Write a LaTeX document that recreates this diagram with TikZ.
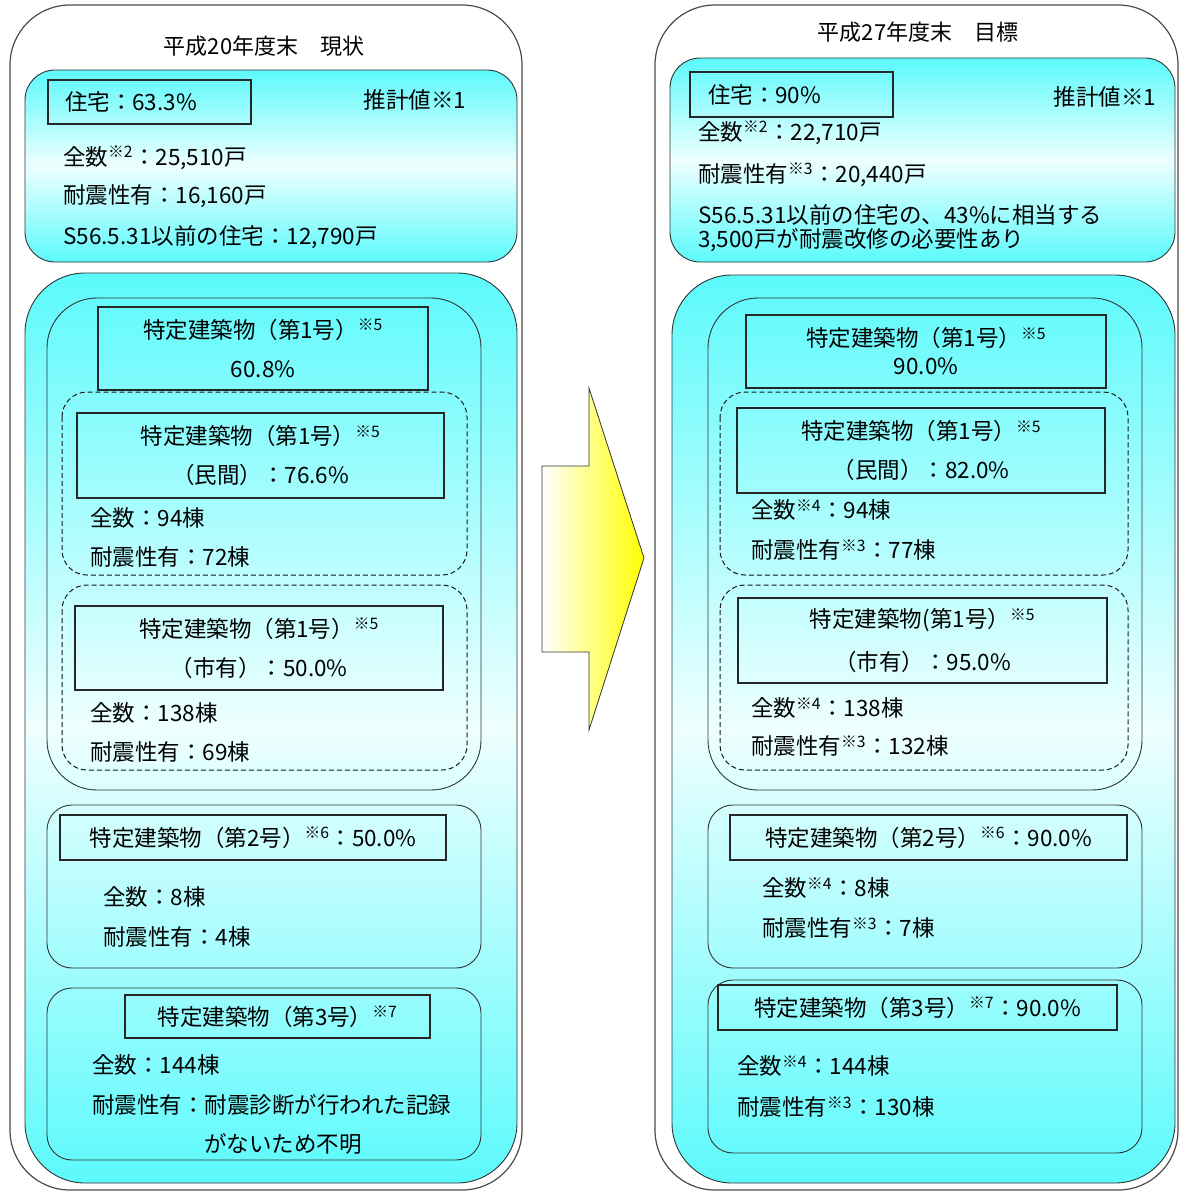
\documentclass[tikz,border=0pt]{standalone}
\usepackage{fontspec}
\setmainfont{Noto Sans CJK JP}
\usetikzlibrary{positioning}
\definecolor{aqua}{RGB}{92,250,252}
\definecolor{aqualight}{RGB}{238,255,255}
\newcommand{\nt}[1]{\textsuperscript{※#1}}
\newcommand{\bodyfont}{\fontsize{22.5pt}{39pt}\selectfont}
\newcommand{\titlefont}{\fontsize{22pt}{26pt}\selectfont}
\begin{document}
\begin{tikzpicture}[x=1pt, y=-1pt, >=latex,
  panel/.style={draw=black!70, line width=1.2pt, fill=white, rounded corners=60pt},
  bluebox/.style={draw=black!80, line width=0.9pt, top color=aqua, bottom color=aqua, middle color=aqualight},
  grp/.style={draw=black!80, line width=0.9pt, rounded corners=#1},
  dgrp/.style={draw=black!90, line width=1pt, dash pattern=on 5pt off 3pt, rounded corners=25pt},
  tbox/.style={draw=black!85, line width=1.2pt, rectangle, inner sep=0pt, align=center, font=\bodyfont},
  txt/.style={anchor=west, inner sep=0pt, font=\bodyfont}]
\useasboundingbox (0,0) rectangle (1183,1194);

% left panel
\draw[panel] (10,5) rectangle (522,1190);
\node (lt)[font=\titlefont] at (264,46) {平成20年度末　現状};
\shadedraw[bluebox, rounded corners=30pt] (25,70) rectangle (517,262);
\node (lh)[tbox, minimum width=203pt, minimum height=44pt, text width=169pt, align=left] at (149.5,102) {住宅：63.3\%};
\node (lest)[txt, anchor=center] at (415,100) {推計値※1};
\foreach \y/\lbl [count=\i] in {158/{全数\nt{2}：25,510戸},196/{耐震性有：16,160戸},237/{S56.5.31以前の住宅：12,790戸}}
{
	\node (la\i)[txt] at (63,\y) {\lbl};
}

\shadedraw[bluebox, rounded corners=60pt] (25,273) rectangle (517,1183);
\draw[grp=50pt] (47,298) rectangle (481,790);
\node (lk1)[tbox, minimum width=330pt, minimum height=83pt] at (263,348.5) {特定建築物（第1号）\nt{5}\\60.8\%};
\draw[dgrp] (62,392) rectangle (467,575);
\node (lk1a)[tbox, minimum width=367pt, minimum height=85pt] at (260.5,455.5) {特定建築物（第1号）\nt{5}\\（民間）：76.6\%};
\draw[dgrp] (62,585) rectangle (467,770);
\node (lk1b)[tbox, minimum width=368pt, minimum height=84pt] at (259,648) {特定建築物（第1号）\nt{5}\\（市有）：50.0\%};
\foreach \y/\lbl [count=\i] in {518/{全数：94棟},557/{耐震性有：72棟},713/{全数：138棟},752/{耐震性有：69棟}}
{
	\node (lb\i)[txt] at (90,\y) {\lbl};
}

\draw[grp=25pt] (47,805) rectangle (481,968);
\node (lk2)[tbox, minimum width=386pt, minimum height=45pt] at (253,837.5) {特定建築物（第2号）\nt{6}：50.0\%};
\node (lc1)[txt] at (103,897) {全数：8棟};
\node (lc2)[txt] at (103,937) {耐震性有：4棟};

\draw[grp=25pt] (47,988) rectangle (481,1160);
\node (lk3)[tbox, minimum width=305pt, minimum height=43pt] at (277.5,1016.5) {特定建築物（第3号）\nt{7}};
\node (ld1)[txt] at (92,1065) {全数：144棟};
\node (ld2)[txt] at (92,1105) {耐震性有：耐震診断が行われた記録};
\node (ld3)[txt, anchor=center] at (283,1144) {がないため不明};

% arrow
\shadedraw[draw=black!80, line width=0.8pt, left color=white, right color=yellow]
  (542,466) -- (589,466) -- (589,388) -- (644,558) -- (589,730) -- (589,652) -- (542,652) -- cycle;

% right panel
\draw[panel] (655,5) rectangle (1178,1190);
\node (rt)[font=\titlefont] at (918,32) {平成27年度末　目標};
\shadedraw[bluebox, rounded corners=30pt] (670,58) rectangle (1175,262);
\node (rh)[tbox, minimum width=203pt, minimum height=45pt, text width=167pt, align=left] at (791.5,94.5) {住宅：90\%};
\node (rest)[txt, anchor=center] at (1105,97) {推計値※1};
\foreach \y/\lbl [count=\i] in {133/{全数\nt{2}：22,710戸},175/{耐震性有\nt{3}：20,440戸},215/{S56.5.31以前の住宅の、43\%に相当する},240/{3,500戸が耐震改修の必要性あり}}
{
	\node (ra\i)[txt] at (698,\y) {\lbl};
}

\shadedraw[bluebox, rounded corners=60pt] (672,275) rectangle (1175,1183);
\draw[grp=50pt] (708,298) rectangle (1142,790);
\node (rk1)[tbox, minimum width=360pt, minimum height=73pt, font=\fontsize{22.5pt}{28pt}\selectfont] at (926,351.5) {特定建築物（第1号）\nt{5}\\90.0\%};
\draw[dgrp] (720,392) rectangle (1128,575);
\node (rk1a)[tbox, minimum width=368pt, minimum height=85pt] at (921,450.5) {特定建築物（第1号）\nt{5}\\（民間）：82.0\%};
\draw[dgrp] (720,585) rectangle (1128,770);
\node (rk1b)[tbox, minimum width=369pt, minimum height=85pt, font=\fontsize{22.5pt}{43pt}\selectfont] at (922.5,640.5) {特定建築物(第1号）\nt{5}\\（市有）：95.0\%};
\foreach \y/\lbl [count=\i] in {510/{全数\nt{4}：94棟},550/{耐震性有\nt{3}：77棟},708/{全数\nt{4}：138棟},746/{耐震性有\nt{3}：132棟}}
{
	\node (rb\i)[txt] at (751,\y) {\lbl};
}

\draw[grp=25pt] (708,805) rectangle (1142,968);
\node (rk2)[tbox, minimum width=397pt, minimum height=45pt] at (928.5,837.5) {特定建築物（第2号）\nt{6}：90.0\%};
\node (rc1)[txt] at (762,888) {全数\nt{4}：8棟};
\node (rc2)[txt] at (762,928) {耐震性有\nt{3}：7棟};

\draw[grp=25pt] (708,980) rectangle (1142,1153);
\node (rk3)[tbox, minimum width=399pt, minimum height=45pt] at (917.5,1007.5) {特定建築物（第3号）\nt{7}：90.0\%};
\node (rd1)[txt] at (737,1066) {全数\nt{4}：144棟};
\node (rd2)[txt] at (737,1107) {耐震性有\nt{3}：130棟};
\end{tikzpicture}
\end{document}
